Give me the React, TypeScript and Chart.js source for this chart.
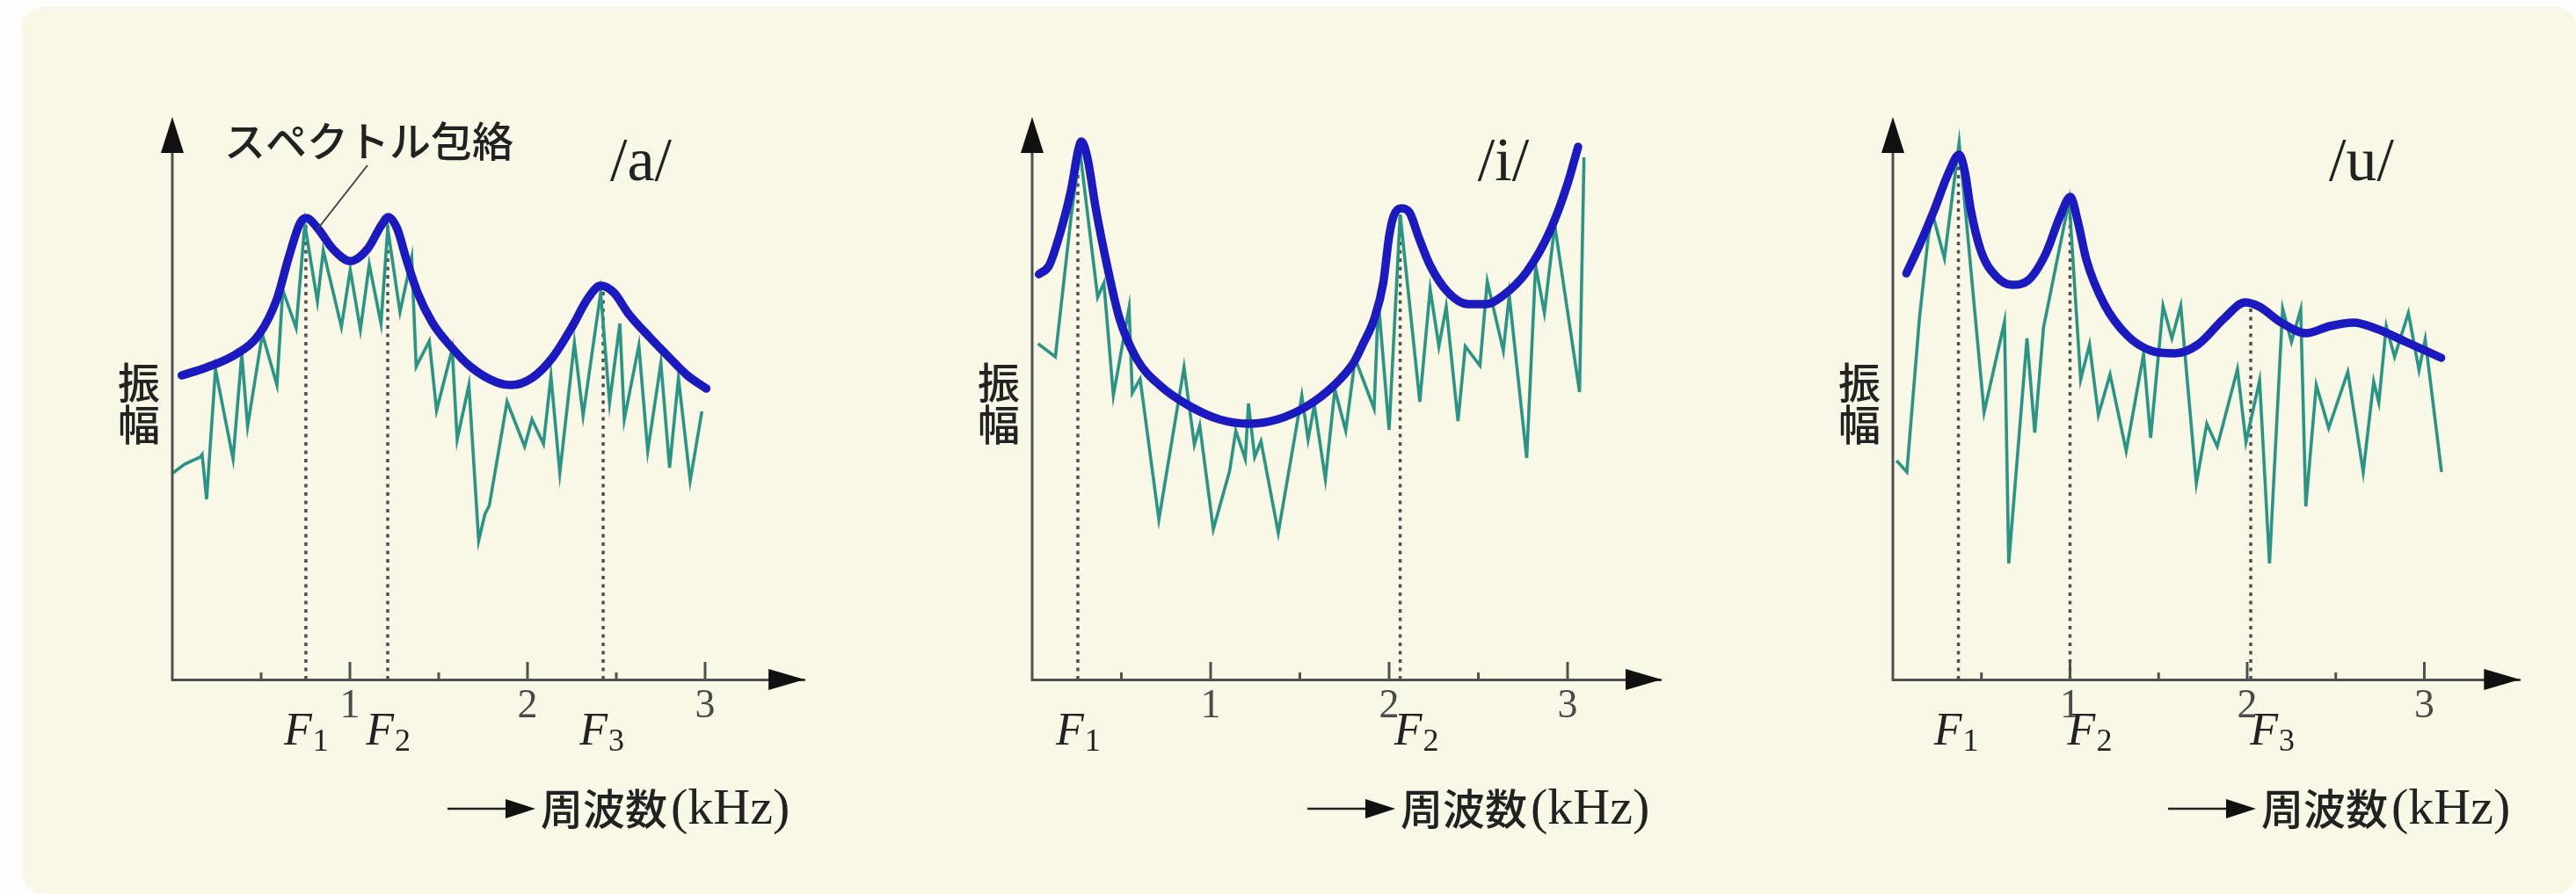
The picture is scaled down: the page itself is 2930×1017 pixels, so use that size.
import React, { useEffect, useRef } from 'react';
import { Chart, registerables } from 'chart.js';

Chart.register(...registerables);

// ---- /a/ ----
const aHarmonicFreq = [0.003, 0.069, 0.157, 0.168, 0.193, 0.243, 0.342, 0.391, 0.424, 0.507, 0.589, 0.622, 0.697, 0.746, 0.817, 0.85, 0.952, 1.002, 1.059, 1.109, 1.175, 1.213, 1.282, 1.348, 1.373, 1.447, 1.488, 1.576, 1.604, 1.67, 1.725, 1.76, 1.785, 1.885, 1.984, 2.025, 2.09, 2.132, 2.182, 2.264, 2.313, 2.412, 2.462, 2.52, 2.545, 2.627, 2.677, 2.751, 2.8, 2.85, 2.916, 2.982];
const aHarmonicAmp = [23.5, 24.5, 25.3, 25.6, 20.5, 35.3, 25.1, 37.0, 28.8, 39.3, 33.5, 44.3, 40.0, 51.8, 43.0, 48.8, 40.1, 46.6, 39.8, 47.2, 40.5, 51.3, 41.8, 48.0, 35.6, 38.5, 30.6, 37.6, 27.3, 33.5, 15.8, 18.8, 19.8, 31.6, 26.5, 29.6, 26.8, 34.5, 23.5, 38.3, 30.0, 44.0, 31.5, 40.5, 29.6, 38.0, 26.0, 36.0, 24.1, 34.3, 22.6, 30.5];
const aEnvelopeFreq = [0.053, 0.193, 0.358, 0.49, 0.589, 0.655, 0.721, 0.754, 0.82, 0.903, 1.002, 1.1, 1.175, 1.216, 1.266, 1.315, 1.381, 1.464, 1.563, 1.678, 1.827, 1.909, 2.025, 2.14, 2.256, 2.338, 2.412, 2.487, 2.569, 2.685, 2.8, 2.9, 3.007];
const aEnvelopeAmp = [34.6, 35.5, 37.0, 39.3, 43.3, 48.0, 52.0, 52.5, 51.3, 49.0, 47.6, 49.0, 51.6, 52.6, 51.3, 48.0, 44.0, 40.6, 38.0, 35.6, 33.8, 33.5, 34.3, 36.6, 40.3, 43.3, 44.8, 44.0, 41.6, 39.0, 36.6, 34.6, 33.1];
const aFormants = [0.752, 1.213, 2.426];

// ---- /i/ ----
const iHarmonicFreq = [0.033, 0.13, 0.22, 0.268, 0.367, 0.402, 0.455, 0.543, 0.561, 0.605, 0.71, 0.851, 0.909, 0.939, 1.015, 1.106, 1.141, 1.194, 1.212, 1.247, 1.282, 1.379, 1.511, 1.546, 1.581, 1.643, 1.696, 1.757, 1.81, 1.916, 1.94, 2.0, 2.062, 2.172, 2.23, 2.279, 2.32, 2.386, 2.427, 2.509, 2.55, 2.64, 2.673, 2.771, 2.821, 2.87, 2.928, 3.067, 3.092];
const iHarmonicAmp = [38.2, 36.7, 53.0, 60.1, 43.5, 45.1, 32.3, 42.3, 32.6, 34.2, 18.2, 35.5, 26.7, 28.9, 17.1, 23.7, 28.3, 25.1, 31.4, 25.3, 27.1, 16.7, 32.3, 27.3, 31.2, 22.8, 33.0, 28.3, 36.5, 30.8, 43.0, 28.4, 52.9, 31.6, 44.4, 37.9, 42.4, 29.4, 37.9, 35.7, 45.3, 37.4, 43.7, 25.2, 47.1, 41.7, 51.7, 32.7, 59.4];
const iEnvelopeFreq = [0.038, 0.095, 0.161, 0.218, 0.26, 0.276, 0.309, 0.358, 0.424, 0.489, 0.588, 0.719, 0.883, 1.048, 1.212, 1.376, 1.54, 1.688, 1.803, 1.852, 1.918, 1.967, 2.0, 2.025, 2.066, 2.115, 2.164, 2.23, 2.328, 2.443, 2.542, 2.64, 2.772, 2.903, 3.0, 3.059];
const iEnvelopeAmp = [46.1, 47.1, 51.1, 55.7, 60.4, 61.2, 59.4, 53.4, 46.7, 41.1, 36.4, 33.4, 31.1, 29.6, 29.1, 29.6, 31.1, 33.4, 36.1, 38.1, 41.1, 45.1, 50.4, 52.7, 53.6, 53.1, 50.4, 47.1, 44.1, 42.7, 42.7, 43.7, 46.4, 51.1, 56.4, 60.6];
const iFormants = [0.256, 2.062];

// ---- /u/ ----
const uHarmonicFreq = [0.021, 0.079, 0.15, 0.2, 0.225, 0.291, 0.374, 0.515, 0.63, 0.654, 0.757, 0.801, 0.85, 0.995, 1.06, 1.11, 1.16, 1.226, 1.317, 1.415, 1.455, 1.525, 1.575, 1.625, 1.713, 1.772, 1.831, 1.945, 1.993, 2.07, 2.126, 2.2, 2.25, 2.302, 2.331, 2.39, 2.46, 2.568, 2.655, 2.714, 2.743, 2.785, 2.832, 2.91, 2.97, 3.005, 3.097];
const uHarmonicAmp = [24.9, 23.6, 41.1, 50.4, 52.9, 47.9, 61.1, 30.4, 40.7, 13.2, 38.8, 28.1, 40.0, 54.5, 34.1, 38.1, 30.1, 34.7, 26.0, 37.0, 27.5, 42.5, 38.8, 42.5, 22.3, 29.1, 26.5, 35.3, 27.0, 34.0, 13.2, 42.2, 38.4, 42.1, 19.7, 33.5, 28.6, 35.0, 23.6, 33.9, 31.5, 40.2, 36.7, 41.7, 35.2, 38.7, 23.6];
const uEnvelopeFreq = [0.076, 0.15, 0.233, 0.316, 0.374, 0.407, 0.44, 0.498, 0.581, 0.672, 0.763, 0.862, 0.944, 1.002, 1.044, 1.093, 1.193, 1.325, 1.458, 1.59, 1.722, 1.871, 1.987, 2.07, 2.185, 2.334, 2.467, 2.6, 2.731, 2.897, 3.095];
const uEnvelopeAmp = [46.2, 49.4, 53.4, 57.7, 59.7, 57.7, 53.4, 48.7, 45.9, 44.9, 45.4, 48.4, 52.7, 54.9, 52.1, 47.7, 42.7, 39.1, 37.4, 37.1, 38.1, 41.1, 42.9, 42.4, 40.7, 39.4, 40.2, 40.6, 39.9, 38.4, 36.6];
const uFormants = [0.37, 1.0, 2.02];

// axis ticks (kHz)
const majorTicks = [1, 2, 3];
const minorTicks = [0.5, 1.5, 2.5];

const yAxisLabel = ['振', '幅'];
const xAxisLabelJa = '周波数';
const xAxisLabelUnit = '(kHz)';
const envelopeCallout = 'スペクトル包絡';

const FONT_JP = '"Noto Sans CJK JP", "Noto Sans", sans-serif';
const FONT_SERIF = '"Liberation Serif", "DejaVu Serif", serif';

const PAGE_W = 2930;
const PAGE_H = 1017;
const AXIS_Y = 773;
const TOP_Y = 133;
const Y_MAX = 64;
const X_AXIS_H = 60;

const ENV_COLOR = '#1a1ac0';
const HARM_COLOR = '#2a9585';
const AXIS_COLOR = '#505050';
const INK = '#222222';

type PanelSpec = {
  vowel: string;
  harmFreq: number[];
  harmAmp: number[];
  envFreq: number[];
  envAmp: number[];
  formants: number[];
  formantLabelShift: number[];
  canvasLeft: number;
  canvasWidth: number;
  originX: number;
  pxPerKHz: number;
  xMax: number;
  titleX: number;
  callout: boolean;
};

const panels: PanelSpec[] = [
  {
    vowel: '/a/', harmFreq: aHarmonicFreq, harmAmp: aHarmonicAmp, envFreq: aEnvelopeFreq, envAmp: aEnvelopeAmp,
    formants: aFormants, formantLabelShift: [0, 0, -2],
    canvasLeft: 0, canvasWidth: 977, originX: 196, pxPerKHz: 202, xMax: 3.56, titleX: 729, callout: true,
  },
  {
    vowel: '/i/', harmFreq: iHarmonicFreq, harmAmp: iHarmonicAmp, envFreq: iEnvelopeFreq, envAmp: iEnvelopeAmp,
    formants: iFormants, formantLabelShift: [0, 18],
    canvasLeft: 977, canvasWidth: 977, originX: 1174, pxPerKHz: 203, xMax: 3.527, titleX: 1710, callout: false,
  },
  {
    vowel: '/u/', harmFreq: uHarmonicFreq, harmAmp: uHarmonicAmp, envFreq: uEnvelopeFreq, envAmp: uEnvelopeAmp,
    formants: uFormants, formantLabelShift: [-3, 22, 24],
    canvasLeft: 1954, canvasWidth: 976, originX: 2153, pxPerKHz: 201.5, xMax: 3.54, titleX: 2686, callout: false,
  },
];

function envelopeAt(fs: number[], as: number[], f: number): number {
  if (f <= fs[0]) return as[0];
  for (let i = 1; i < fs.length; i++) {
    if (f <= fs[i]) {
      const t = (f - fs[i - 1]) / (fs[i] - fs[i - 1]);
      return as[i - 1] + t * (as[i] - as[i - 1]);
    }
  }
  return as[as.length - 1];
}

function drawFormantLabel(ctx: CanvasRenderingContext2D, cx: number, n: number) {
  ctx.font = `italic 52px ${FONT_SERIF}`;
  const wF = ctx.measureText('F').width;
  ctx.font = `36px ${FONT_SERIF}`;
  const wS = ctx.measureText(String(n)).width;
  const left = cx - (wF + wS) / 2;
  ctx.fillStyle = INK;
  ctx.textAlign = 'left';
  ctx.textBaseline = 'alphabetic';
  ctx.font = `italic 52px ${FONT_SERIF}`;
  ctx.fillText('F', left, 847);
  ctx.font = `36px ${FONT_SERIF}`;
  ctx.fillText(String(n), left + wF + 1, 854);
}

function makeDecor(p: PanelSpec) {
  return {
    id: 'panelDecor',
    beforeDatasetsDraw(chart: any) {
      const { ctx, scales } = chart;
      const x = scales.x;
      const y = scales.y;
      ctx.save();
      ctx.strokeStyle = AXIS_COLOR;
      ctx.lineWidth = 3.5;
      ctx.setLineDash([4, 5.5]);
      p.formants.forEach((f) => {
        const px = x.getPixelForValue(f);
        ctx.beginPath();
        ctx.moveTo(px, y.getPixelForValue(0));
        ctx.lineTo(px, y.getPixelForValue(envelopeAt(p.envFreq, p.envAmp, f)));
        ctx.stroke();
      });
      ctx.restore();
    },
    afterDraw(chart: any) {
      const { ctx, scales, chartArea } = chart;
      const x = scales.x;
      const y = scales.y;
      const ox = x.getPixelForValue(0);
      const oy = y.getPixelForValue(0);
      const L = p.canvasLeft;
      ctx.save();

      // vertical axis with arrow
      ctx.strokeStyle = AXIS_COLOR;
      ctx.lineWidth = 3;
      ctx.beginPath();
      ctx.moveTo(ox, oy + 1.5);
      ctx.lineTo(ox, chartArea.top + 30);
      ctx.stroke();
      ctx.fillStyle = '#111';
      ctx.beginPath();
      ctx.moveTo(ox, chartArea.top);
      ctx.lineTo(ox - 13, chartArea.top + 41);
      ctx.lineTo(ox + 13, chartArea.top + 41);
      ctx.closePath();
      ctx.fill();

      // horizontal arrow head
      ctx.beginPath();
      ctx.moveTo(chartArea.right, oy);
      ctx.lineTo(chartArea.right - 41, oy - 12);
      ctx.lineTo(chartArea.right - 41, oy + 12);
      ctx.closePath();
      ctx.fill();

      // tick marks pointing up
      ctx.strokeStyle = AXIS_COLOR;
      ctx.lineWidth = 3;
      majorTicks.forEach((v) => {
        const px = x.getPixelForValue(v);
        ctx.beginPath();
        ctx.moveTo(px, oy);
        ctx.lineTo(px, oy - 20);
        ctx.stroke();
      });
      minorTicks.forEach((v) => {
        const px = x.getPixelForValue(v);
        ctx.beginPath();
        ctx.moveTo(px, oy);
        ctx.lineTo(px, oy - 8);
        ctx.stroke();
      });

      // formant labels
      p.formants.forEach((f, i) => {
        drawFormantLabel(ctx, x.getPixelForValue(f) + p.formantLabelShift[i], i + 1);
      });

      // vowel title
      ctx.fillStyle = INK;
      ctx.font = `70px ${FONT_SERIF}`;
      ctx.textAlign = 'center';
      ctx.textBaseline = 'alphabetic';
      ctx.fillText(p.vowel, p.titleX - L, 205);

      // vertical amplitude label
      ctx.font = `500 48px ${FONT_JP}`;
      ctx.textAlign = 'center';
      ctx.textBaseline = 'middle';
      ctx.fillText(yAxisLabel[0], ox - 38, 435);
      ctx.fillText(yAxisLabel[1], ox - 38, 483);

      // frequency label with arrow
      const ay = 920;
      const a0 = ox + 313;
      const aTip = ox + 413;
      ctx.strokeStyle = '#222';
      ctx.lineWidth = 2.5;
      ctx.beginPath();
      ctx.moveTo(a0, ay);
      ctx.lineTo(aTip - 30, ay);
      ctx.stroke();
      ctx.fillStyle = '#111';
      ctx.beginPath();
      ctx.moveTo(aTip, ay);
      ctx.lineTo(aTip - 34, ay - 11);
      ctx.lineTo(aTip - 34, ay + 11);
      ctx.closePath();
      ctx.fill();
      ctx.fillStyle = INK;
      ctx.textAlign = 'left';
      ctx.textBaseline = 'middle';
      ctx.font = `500 48px ${FONT_JP}`;
      const jaLeft = aTip + 6;
      ctx.fillText(xAxisLabelJa, jaLeft, ay);
      const wJa = ctx.measureText(xAxisLabelJa).width;
      ctx.font = `58px ${FONT_SERIF}`;
      ctx.fillText(xAxisLabelUnit, jaLeft + wJa + 4, ay + 2);

      // envelope callout
      if (p.callout) {
        ctx.font = `500 47px ${FONT_JP}`;
        ctx.textAlign = 'left';
        ctx.textBaseline = 'middle';
        ctx.fillText(envelopeCallout, 255 - L, 160);
        const tf = 0.82;
        ctx.strokeStyle = '#444';
        ctx.lineWidth = 2;
        ctx.beginPath();
        ctx.moveTo(418 - L, 188);
        ctx.lineTo(x.getPixelForValue(tf), y.getPixelForValue(envelopeAt(p.envFreq, p.envAmp, tf)));
        ctx.stroke();
      }
      ctx.restore();
    },
  };
}

function SpectrumPanel({ spec }: { spec: PanelSpec }) {
  const ref = useRef<HTMLCanvasElement | null>(null);
  useEffect(() => {
    if (!ref.current) return;
    const p = spec;
    const chart = new Chart(ref.current, {
      type: 'line',
      data: {
        datasets: [
          {
            label: envelopeCallout,
            data: p.envFreq.map((f, i) => ({ x: f, y: p.envAmp[i] })),
            borderColor: ENV_COLOR,
            borderWidth: 9.5,
            pointRadius: 0,
            cubicInterpolationMode: 'monotone',
            borderCapStyle: 'round',
            borderJoinStyle: 'round',
            fill: false,
            order: 0,
          },
          {
            label: p.vowel,
            data: p.harmFreq.map((f, i) => ({ x: f, y: p.harmAmp[i] })),
            borderColor: HARM_COLOR,
            borderWidth: 3.6,
            pointRadius: 0,
            tension: 0,
            borderJoinStyle: 'miter',
            fill: false,
            order: 1,
          },
        ],
      },
      options: {
        responsive: false,
        maintainAspectRatio: false,
        animation: false,
        devicePixelRatio: 1,
        events: [],
        layout: {
          autoPadding: false,
          padding: {
            left: p.originX - p.canvasLeft,
            right: p.canvasLeft + p.canvasWidth - (p.originX + p.xMax * p.pxPerKHz),
            top: TOP_Y,
            bottom: PAGE_H - AXIS_Y - X_AXIS_H,
          },
        },
        plugins: { legend: { display: false }, tooltip: { enabled: false } },
        scales: {
          x: {
            type: 'linear',
            min: 0,
            max: p.xMax,
            grid: { display: false, drawTicks: false },
            border: { display: true, color: AXIS_COLOR, width: 3 },
            ticks: {
              color: '#4a4a4a',
              font: { family: FONT_SERIF, size: 46, lineHeight: 1 },
              padding: 8,
              autoSkip: false,
              maxRotation: 0,
              minRotation: 0,
            },
            afterBuildTicks: (axis: any) => {
              axis.ticks = majorTicks.map((v) => ({ value: v }));
            },
            afterFit: (axis: any) => {
              axis.height = X_AXIS_H;
            },
          },
          y: { type: 'linear', display: false, min: 0, max: Y_MAX },
        },
      } as any,
      plugins: [makeDecor(p)],
    });
    return () => chart.destroy();
  }, [spec]);
  return (
    <canvas
      ref={ref}
      width={spec.canvasWidth}
      height={PAGE_H}
      style={{ position: 'absolute', left: spec.canvasLeft, top: 0, width: spec.canvasWidth, height: PAGE_H }}
    />
  );
}

export default function App() {
  return (
    <div style={{ position: 'absolute', left: 0, top: 0, width: PAGE_W, height: PAGE_H, background: '#fdfdfb', overflow: 'hidden' }}>
      <div style={{ position: 'absolute', left: 25, top: 8, width: PAGE_W - 25, height: PAGE_H - 8, background: '#f9f7e6', borderRadius: 24 }} />
      {panels.map((p) => (
        <SpectrumPanel key={p.vowel} spec={p} />
      ))}
    </div>
  );
}
